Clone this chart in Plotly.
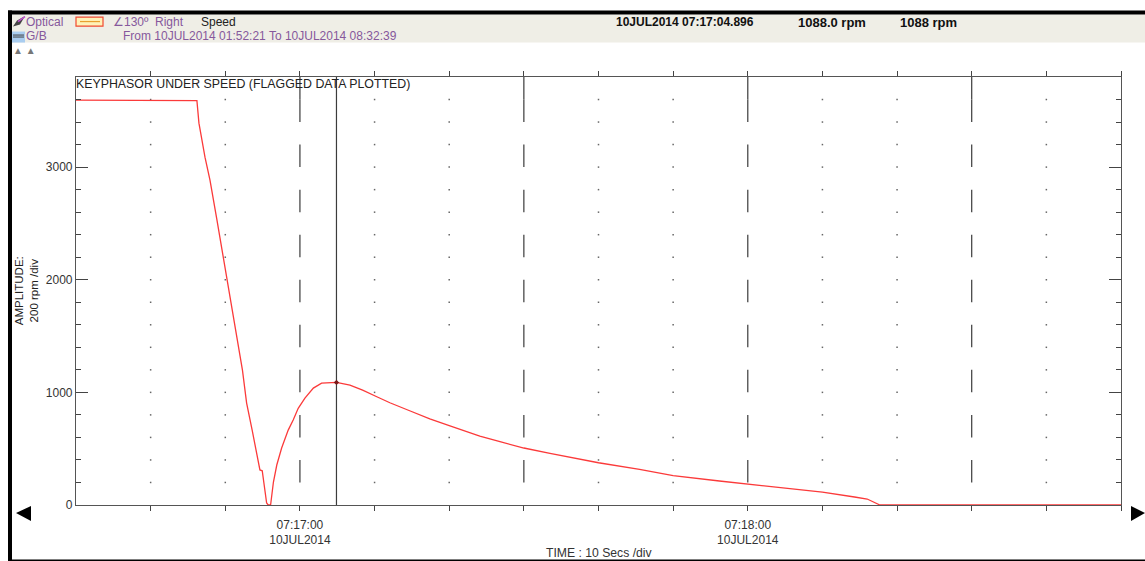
import pandas as pd
import plotly.graph_objects as go

W, H = 1145, 561
L, R, T, B = 76, 1121, 76.5, 505

start = pd.Timestamp("2014-07-10 07:16:30")
elapsed_s = [0, 16.07, 16.2, 16.47, 16.83, 17.28, 17.95, 18.39, 18.84, 22.3, 22.86, 23.6, 24.2, 24.64, 24.95,
             25.54, 25.75, 26.07, 26.45, 26.9, 27.55, 28.43, 29.1, 29.77, 30.67, 31.8, 32.9, 34.896,
             36.7, 38.4, 40.3, 42.05, 44.7, 47.4, 50.1, 54.1, 56.8, 60, 63.5, 70, 75.5, 80, 86.2, 90,
             94, 100, 104.3, 106, 107.7, 140]
speed_rpm = [3594, 3594, 3590, 3390, 3239, 3088, 2884, 2706, 2547, 1198, 905, 665, 461, 311, 304,
             18, 0, 0, 204, 355, 506, 665, 754, 858, 949, 1038, 1082, 1088,
             1065, 1020, 961, 908, 837, 764, 703, 612, 562, 506, 459, 375, 316, 260, 213, 186,
             160, 115, 71, 53, 0, 0]
cursor_s = 34.896
cursor_rpm = 1088
major_s = [30, 60, 90, 120]
minor_s = [10, 20, 40, 50, 70, 80, 100, 110, 130]
grid_rpm = list(range(200, 3800, 200))
x_tick_s = list(range(10, 141, 10))
x_tick_labels = {30: "07:17:00<br>10JUL2014", 90: "07:18:00<br>10JUL2014"}
y_ticks = [0, 1000, 2000, 3000]


def when(s):
    return start + pd.to_timedelta(s, unit="s")


def px(x):
    return (x - L) / (R - L)


def py(y):
    return (B - y) / (B - T)


fig = go.Figure()

dash_x, dash_y = [], []
for s in major_s:
    dash_x += [when(s), when(s), None]
    dash_y += [-105, 0, None]
    for low in range(200, 3600, 400):
        dash_x += [when(s), when(s), None]
        dash_y += [low, low + 200, None]
    dash_x += [when(s), when(s), None]
    dash_y += [3600, 3905, None]
fig.add_trace(go.Scatter(x=dash_x, y=dash_y, mode="lines", cliponaxis=False,
                         line=dict(color="#3a3a3a", width=1.2), hoverinfo="skip"))

dot_x, dot_y = [], []
for s in minor_s:
    for r in grid_rpm:
        dot_x.append(when(s))
        dot_y.append(r)
fig.add_trace(go.Scatter(x=dot_x, y=dot_y, mode="markers",
                         marker=dict(symbol="square", size=1.5, color="#666666"),
                         hoverinfo="skip"))

fig.add_trace(go.Scatter(x=[when(cursor_s), when(cursor_s)], y=[0, 3800], mode="lines",
                         line=dict(color="#3c3c3c", width=1.2), hoverinfo="skip"))

fig.add_trace(go.Scatter(x=[when(s) for s in elapsed_s], y=speed_rpm, mode="lines",
                         line=dict(color="#fb3a3a", width=1.3), cliponaxis=False))
fig.add_trace(go.Scatter(x=[when(cursor_s)], y=[cursor_rpm], mode="markers",
                         marker=dict(symbol="diamond", size=4, color="#7a1818")))

shapes = [
    dict(type="rect", xref="paper", yref="paper", x0=px(12), x1=px(W), y0=py(42), y1=py(14),
         fillcolor="#efeee6", line_width=0, layer="below"),
    dict(type="rect", xref="paper", yref="paper", x0=px(8), x1=px(W), y0=py(14), y1=py(10),
         fillcolor="#000000", line_width=0),
    dict(type="rect", xref="paper", yref="paper", x0=px(8), x1=px(12), y0=py(H), y1=py(10),
         fillcolor="#000000", line_width=0),
    dict(type="rect", xref="paper", yref="paper", x0=px(8), x1=px(W), y0=py(561), y1=py(559.5),
         fillcolor="#000000", line_width=0),
    dict(type="rect", xref="paper", yref="paper", x0=px(76), x1=px(103), y0=py(25.5), y1=py(16.5),
         fillcolor="#fff2b8", line=dict(color="#f04a30", width=1.2)),
    dict(type="line", xref="paper", yref="paper", x0=px(80), x1=px(100), y0=py(21), y1=py(21),
         line=dict(color="#e8a030", width=1.2)),
    dict(type="rect", xref="paper", yref="paper", x0=px(12), x1=px(25), y0=py(42), y1=py(31),
         fillcolor="#a9cdf0", line_width=0),
    dict(type="line", xref="paper", yref="paper", x0=px(13), x1=px(24), y0=py(34.5), y1=py(34.5),
         line=dict(color="#444444", width=1)),
    dict(type="line", xref="paper", yref="paper", x0=px(13), x1=px(24), y0=py(36.5), y1=py(36.5),
         line=dict(color="#444444", width=1)),
    dict(type="path", xref="paper", yref="paper",
         path=f"M {px(13)} {py(26)} L {px(17)} {py(20)} L {px(25)} {py(15.5)} L {px(20)} {py(24)} Z",
         fillcolor="#444444", line_width=0),
    dict(type="line", xref="paper", yref="paper", x0=px(18), x1=px(25), y0=py(21), y1=py(16),
         line=dict(color="#c050d0", width=1.5)),
    dict(type="path", xref="paper", yref="paper",
         path=f"M {px(16)} {py(513)} L {px(31)} {py(506)} L {px(31)} {py(521)} Z",
         fillcolor="#000000", line_width=0),
    dict(type="path", xref="paper", yref="paper",
         path=f"M {px(1145)} {py(513)} L {px(1131)} {py(506)} L {px(1131)} {py(521)} Z",
         fillcolor="#000000", line_width=0),
]


def note(x, y, text, color="#333333", size=12, anchor="left", **kw):
    return dict(xref="paper", yref="paper", x=px(x), y=py(y), text=text, showarrow=False,
                xanchor=anchor, yanchor="middle", align=anchor, borderpad=0,
                font=dict(family="Liberation Sans", size=size, color=color), **kw)


PURPLE = "#86589c"
annotations = [
    note(24.5, 21.5, "Optical", PURPLE),
    note(112, 21, "∠130º", PURPLE),
    note(154, 21.5, "Right", PURPLE),
    note(199.5, 21.5, "Speed", "#222222"),
    note(24.5, 35.5, "G/B", PURPLE),
    note(122, 35.5, "From 10JUL2014 01:52:21 To 10JUL2014 08:32:39", PURPLE),
    note(615, 21.5, "<b>10JUL2014 07:17:04.896</b>", "#111111", size=12),
    note(796.5, 21.5, "<b>1088.0 rpm</b>", "#111111", size=13),
    note(898.5, 21.5, "<b>1088 rpm</b>", "#111111", size=13),
    note(12, 49.5, "▲ ▲", "#777777", size=10),
    note(75, 84, "KEYPHASOR UNDER SPEED (FLAGGED DATA PLOTTED)", "#222222", size=12.35),
    note(599.5, 553, "TIME : 10 Secs /div", "#333333", size=12.2, anchor="center"),
    note(26, 291, "AMPLITUDE:<br>200 rpm /div", "#222222", size=11.5, anchor="center", textangle=-90),
]

fig.update_layout(
    width=W, height=H, showlegend=False, plot_bgcolor="white", paper_bgcolor="white",
    margin=dict(l=L, r=W - R, t=T, b=H - B),
    shapes=shapes, annotations=annotations,
    font=dict(family="Liberation Sans", size=12, color="#333333"),
    xaxis=dict(
        type="date", range=[when(0), when(140)], tickmode="array", automargin=False,
        tickvals=[when(s) for s in x_tick_s],
        ticktext=[x_tick_labels.get(s, "") for s in x_tick_s],
        ticks="outside", ticklen=5, tickcolor="#444444", tickwidth=1,
        showline=True, linecolor="#555555", linewidth=1.2, mirror="allticks",
        showgrid=False, zeroline=False, ticklabelstandoff=3, tickangle=0,
    ),
    yaxis=dict(
        range=[0, 3800], tickmode="array", tickvals=y_ticks, automargin=False,
        ticktext=[str(v) for v in y_ticks],
        ticks="inside", ticklen=12, tickcolor="#444444", tickwidth=1,
        minor=dict(tickmode="array", tickvals=grid_rpm, ticks="inside", ticklen=5,
                   tickcolor="#444444", tickwidth=1, showgrid=False),
        showline=True, linecolor="#555555", linewidth=1.2, mirror="allticks",
        showgrid=False, zeroline=False, ticklabelstandoff=0,
    ),
)

fig.write_html("out.html", config=dict(displayModeBar=False),
               post_script="document.body.style.margin='0';document.body.style.overflow='hidden';")
